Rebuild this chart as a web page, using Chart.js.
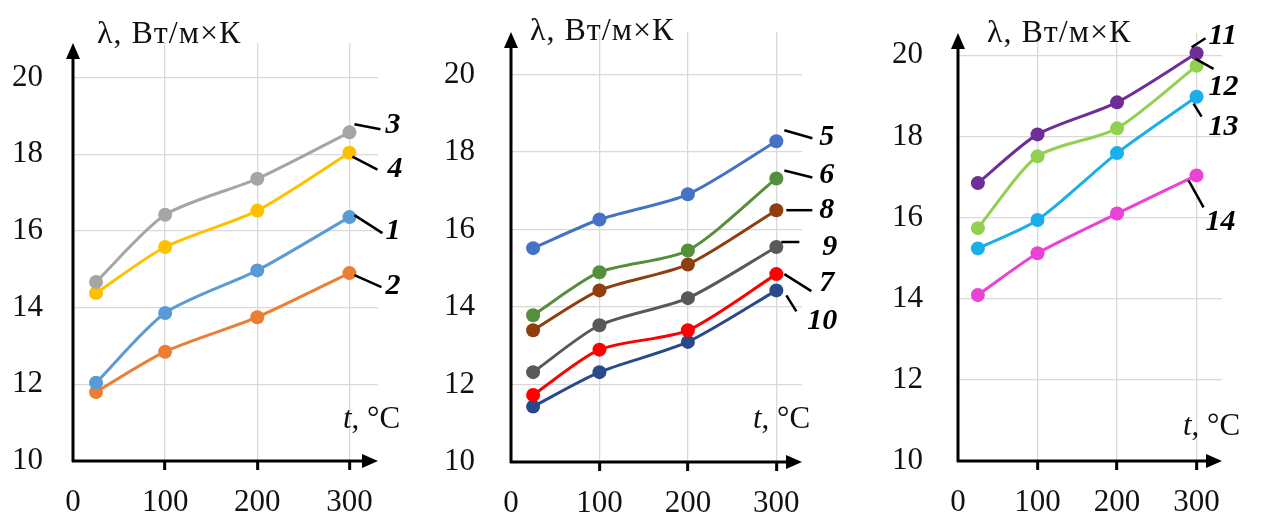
<!DOCTYPE html>
<html lang="ru">
<head>
<meta charset="UTF-8">
<title>λ(t)</title>
<style>
  html, body {
    margin: 0;
    padding: 0;
    background: #fff;
  }
  .wrap {
    position: relative;
    width: 1263px;
    height: 517px;
    overflow: hidden;
  }
  .wrap canvas {
    position: absolute;
    top: 0;
  }
</style>
<script src="https://cdn.jsdelivr.net/npm/chart.js"></script>
</head>
<body>
<div class="wrap">
  <canvas id="panel1" width="420" height="517" style="left:0px"></canvas>
  <canvas id="panel2" width="420" height="517" style="left:420px"></canvas>
  <canvas id="panel3" width="423" height="517" style="left:840px"></canvas>
</div>

<script>
// temperature, °C
const tempC = [25, 100, 200, 300];
const xTicks = [0, 100, 200, 300];
const yTicks = [10, 12, 14, 16, 18, 20];

// thermal conductivity, W/(m*K)
const lam1 = [12.04, 13.86, 14.97, 16.36];
const lam2 = [11.80, 12.85, 13.75, 14.90];
const lam3 = [14.67, 16.42, 17.36, 18.57];
const lam4 = [14.38, 15.58, 16.53, 18.04];

const lam5 = [15.52, 16.26, 16.91, 18.28];
const lam6 = [13.79, 14.90, 15.46, 17.32];
const lam7 = [11.73, 12.90, 13.40, 14.85];
const lam8 = [13.40, 14.43, 15.10, 16.50];
const lam9 = [12.32, 13.53, 14.23, 15.55];
const lam10 = [11.43, 12.32, 13.10, 14.43];

const lam11 = [16.85, 18.05, 18.84, 20.05];
const lam12 = [15.74, 17.51, 18.20, 19.74];
const lam13 = [15.24, 15.94, 17.59, 18.98];
const lam14 = [14.09, 15.12, 16.10, 17.04];

const yTitle = 'λ, Вт/м×К';
const SERIF = '"Liberation Serif", "Times New Roman", serif';

// label offsets from the last point: leader line [x1,y1,x2,y2], text [dx,dy]
const panels = [
  {
    id: 'panel1', w: 420, left: 73, right: 42, top: 43, bottom: 56,
    xMax: 331, yMax: 20.9, tickPad: 30,
    title: [97, 43], tLabel: [343, 428],
    series: [
      { name: '1', data: lam1, color: '#5b9bd5', lead: [5, -2, 33, 16], txt: [36, 14] },
      { name: '2', data: lam2, color: '#ed7d31', lead: [5, 2, 32, 14], txt: [36, 13] },
      { name: '3', data: lam3, color: '#a5a5a5', lead: [5, -8, 31, -3], txt: [36, -7] },
      { name: '4', data: lam4, color: '#ffc000', lead: [3, 4, 28, 17], txt: [38, 17] }
    ]
  },
  {
    id: 'panel2', w: 420, left: 91, right: 38, top: 32, bottom: 55,
    xMax: 329, yMax: 21.1, tickPad: 36,
    title: [110, 40], tLabel: [333, 428],
    series: [
      { name: '5', data: lam5, color: '#4472c4', lead: [8, -11, 36, -3], txt: [43, -4] },
      { name: '6', data: lam6, color: '#548f3c', lead: [8, -8, 36, -1], txt: [43, -3] },
      { name: '7', data: lam7, color: '#ff0000', lead: [8, 0, 35, 17], txt: [43, 9] },
      { name: '8', data: lam8, color: '#8e3f10', lead: [10, 0, 36, 0], txt: [43, 0] },
      { name: '9', data: lam9, color: '#595959', lead: [5, -5, 23, -5], txt: [46, 0] },
      { name: '10', data: lam10, color: '#284a8a', lead: [10, 5, 20, 21], txt: [31, 31] }
    ]
  },
  {
    id: 'panel3', w: 423, left: 118, right: 41, top: 33, bottom: 56,
    xMax: 332, yMax: 20.55, tickPad: 35,
    title: [147, 42], tLabel: [343, 435],
    series: [
      { name: '11', data: lam11, color: '#6e2d97', lead: [-5, -6, 9, -15], txt: [12, -17] },
      { name: '12', data: lam12, color: '#92d050', lead: [-1, -7, 17, 3], txt: [12, 21] },
      { name: '13', data: lam13, color: '#1aaeea', lead: [-3, 7, 5, 20], txt: [12, 31] },
      { name: '14', data: lam14, color: '#ec41d6', lead: [-8, 5, 7, 32], txt: [9, 47] }
    ]
  }
];

function arrowHead(ctx, x, y, dir) {
  ctx.beginPath();
  if (dir === 'up') {
    ctx.moveTo(x, y);
    ctx.lineTo(x - 7, y + 16);
    ctx.lineTo(x + 7, y + 16);
  } else {
    ctx.moveTo(x, y);
    ctx.lineTo(x - 16, y - 7);
    ctx.lineTo(x - 16, y + 7);
  }
  ctx.closePath();
  ctx.fill();
}

const decorPlugin = {
  id: 'decor',
  beforeDatasetsDraw(chart, args, opts) {
    const ctx = chart.ctx;
    const a = chart.chartArea;
    ctx.save();
    ctx.strokeStyle = '#000';
    ctx.fillStyle = '#000';
    ctx.lineWidth = 3;
    ctx.beginPath();
    ctx.moveTo(a.left, a.bottom + 1);
    ctx.lineTo(a.left, a.top + 12);
    ctx.moveTo(a.left - 1, a.bottom);
    ctx.lineTo(a.right - 12, a.bottom);
    ctx.stroke();
    arrowHead(ctx, a.left, a.top, 'up');
    arrowHead(ctx, a.right, a.bottom, 'right');

    // axis titles
    ctx.textBaseline = 'alphabetic';
    ctx.textAlign = 'left';
    ctx.fillStyle = '#111';
    ctx.font = '32px ' + SERIF;
    ctx.letterSpacing = '1px';
    ctx.fillText(yTitle, opts.title[0], opts.title[1]);
    ctx.letterSpacing = '0px';
    ctx.font = 'italic 31px ' + SERIF;
    ctx.fillText('t', opts.tLabel[0], opts.tLabel[1]);
    const tw = ctx.measureText('t').width;
    ctx.font = '31px ' + SERIF;
    ctx.fillText(', °C', opts.tLabel[0] + tw, opts.tLabel[1]);
    ctx.restore();
  },
  afterDatasetsDraw(chart, args, opts) {
    const ctx = chart.ctx;
    ctx.save();
    ctx.strokeStyle = '#000';
    ctx.fillStyle = '#000';
    ctx.lineWidth = 2.5;
    ctx.font = 'bold italic 30px ' + SERIF;
    ctx.textAlign = 'left';
    ctx.textBaseline = 'middle';
    opts.series.forEach((s, i) => {
      const pts = chart.getDatasetMeta(i).data;
      const p = pts[pts.length - 1];
      ctx.beginPath();
      ctx.moveTo(p.x + s.lead[0], p.y + s.lead[1]);
      ctx.lineTo(p.x + s.lead[2], p.y + s.lead[3]);
      ctx.stroke();
      ctx.fillText(s.name, p.x + s.txt[0], p.y + s.txt[1]);
    });
    ctx.restore();
  }
};

function makePanel(p) {
  const datasets = p.series.map(s => ({
    label: s.name,
    data: tempC.map((t, i) => ({ x: t, y: s.data[i] })),
    borderColor: s.color,
    backgroundColor: s.color,
    pointBackgroundColor: s.color,
    pointBorderWidth: 0,
    pointRadius: 7,
    borderWidth: 3,
    tension: 0.25
  }));

  new Chart(document.getElementById(p.id), {
    type: 'line',
    data: { datasets: datasets },
    plugins: [decorPlugin],
    options: {
      responsive: false,
      animation: false,
      layout: { padding: { top: p.top, right: p.right, left: 0, bottom: 0 } },
      plugins: {
        legend: { display: false },
        tooltip: { enabled: false },
        decor: { series: p.series, title: p.title, tLabel: p.tLabel }
      },
      scales: {
        x: {
          type: 'linear',
          min: 0,
          max: p.xMax,
          afterBuildTicks: sc => { sc.ticks = xTicks.map(v => ({ value: v })); },
          afterFit: sc => { sc.height = p.bottom; sc.paddingLeft = 0; sc.paddingRight = 0; },
          border: { display: false },
          grid: {
            color: c => (c.tick && c.tick.value === 0) ? 'rgba(0,0,0,0)' : '#d9d9d9',
            lineWidth: 1.3,
            drawTicks: true,
            tickLength: 9,
            tickWidth: 3,
            tickColor: c => (c.tick && c.tick.value === 0) ? 'rgba(0,0,0,0)' : '#000'
          },
          ticks: {
            padding: 14,
            color: '#111',
            maxRotation: 0,
            font: { family: SERIF, size: 31 }
          }
        },
        y: {
          min: 10,
          max: p.yMax,
          afterBuildTicks: sc => { sc.ticks = yTicks.map(v => ({ value: v })); },
          afterFit: sc => { sc.width = p.left; sc.paddingTop = 0; sc.paddingBottom = 0; },
          border: { display: false },
          grid: {
            color: c => (c.tick && c.tick.value === 10) ? 'rgba(0,0,0,0)' : '#d9d9d9',
            lineWidth: 1.3,
            drawTicks: false
          },
          ticks: {
            padding: p.tickPad,
            color: '#111',
            font: { family: SERIF, size: 31 }
          }
        }
      }
    }
  });
}

panels.forEach(makePanel);
</script>
</body>
</html>
